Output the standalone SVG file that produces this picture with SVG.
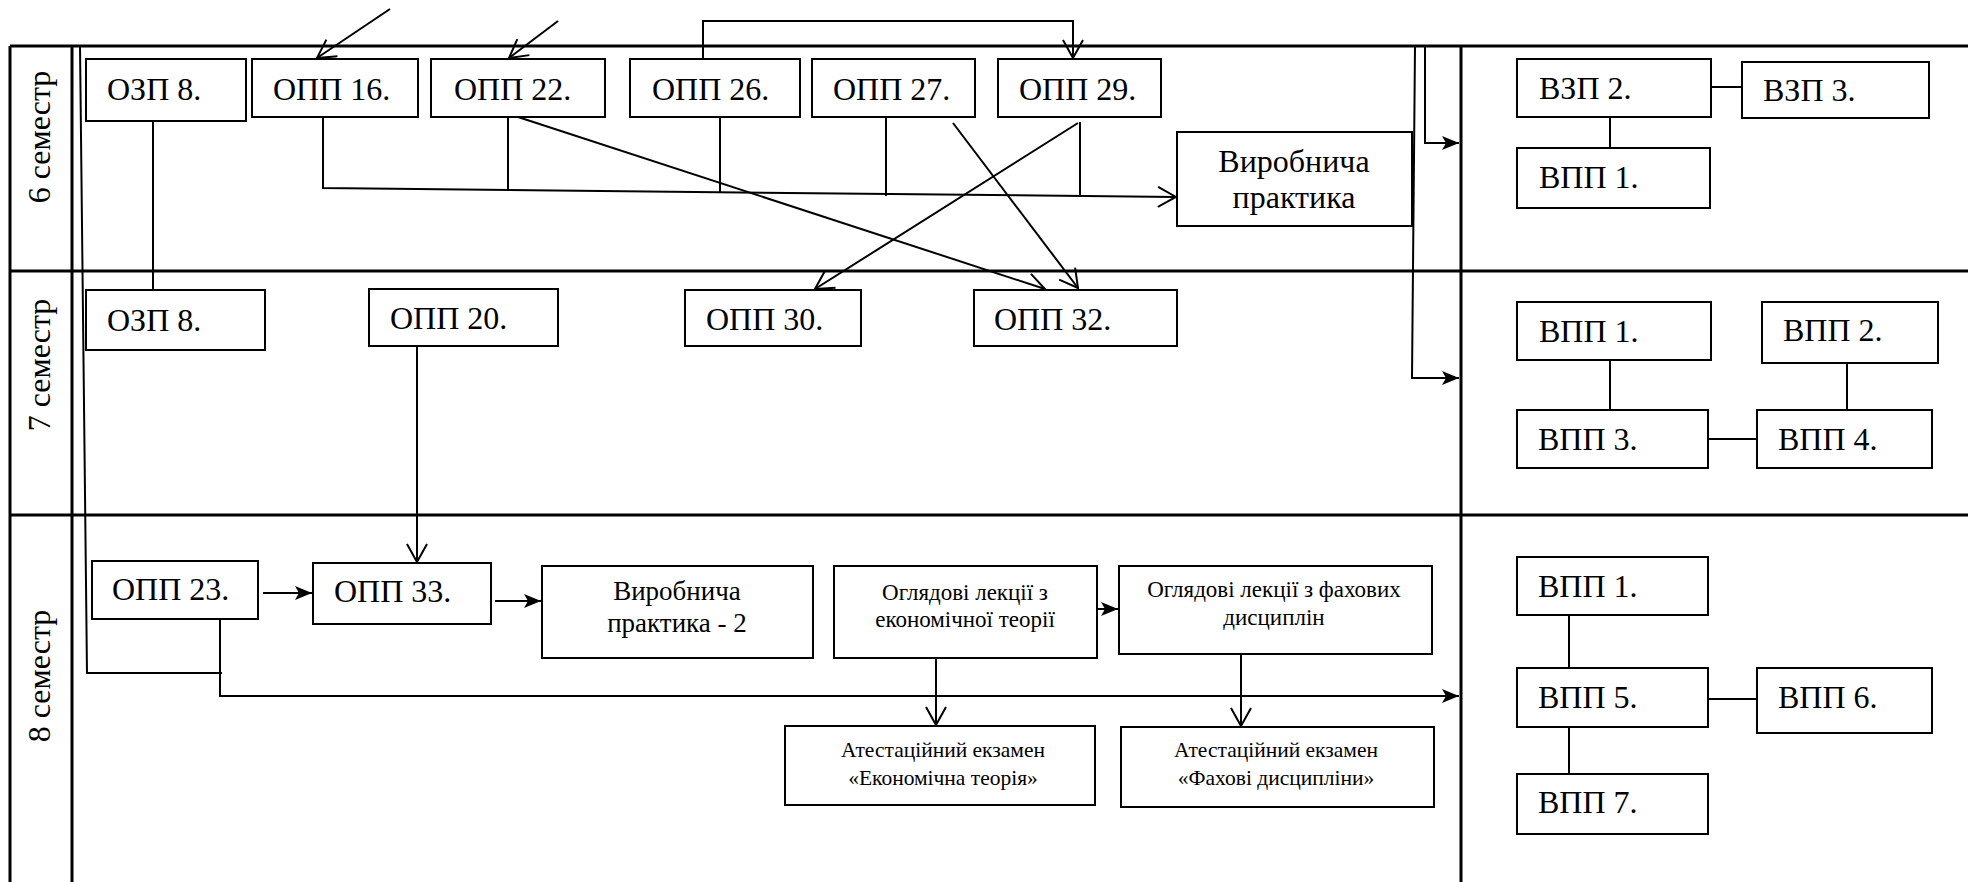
<svg xmlns="http://www.w3.org/2000/svg" width="1968" height="882" viewBox="0 0 1968 882">
<style>
.frame{stroke:#000;stroke-width:3;fill:none}
.box{fill:#fff;stroke:#000;stroke-width:2}
.c{fill:none;stroke:#000;stroke-width:2}
.t{font-family:"Liberation Serif","Times New Roman",serif;font-size:32px;fill:#000}
.m{text-anchor:middle}
.s27{font-size:27px}
.s23{font-size:23px}
.s21{font-size:21.5px}
</style>
<defs>
<marker id="open" viewBox="0 0 20 22" refX="19" refY="11" markerWidth="20" markerHeight="22" markerUnits="userSpaceOnUse" orient="auto">
<path d="M1,1 L19,11 L1,21" fill="none" stroke="#000" stroke-width="2"/>
</marker>
<marker id="fill" viewBox="0 0 18 14" refX="17" refY="7" markerWidth="18" markerHeight="14" markerUnits="userSpaceOnUse" orient="auto">
<path d="M0,0 L17,7 L0,14 L4,7 Z" fill="#000"/>
</marker>
</defs>
<rect width="1968" height="882" fill="#fff"/>
<g id="frame">
<line class="frame" x1="10" y1="46" x2="1968" y2="46"/>
<line class="frame" x1="10" y1="271" x2="1968" y2="271"/>
<line class="frame" x1="10" y1="515" x2="1968" y2="515"/>
<line class="frame" x1="10" y1="46" x2="10" y2="882"/>
<line class="frame" x1="72" y1="46" x2="72" y2="882"/>
<line class="frame" x1="1461" y1="46" x2="1461" y2="882"/>
<text class="t m" transform="translate(50,137) rotate(-90)">6 семестр</text>
<text class="t m" transform="translate(50,365) rotate(-90)">7 семестр</text>
<text class="t m" transform="translate(50,676) rotate(-90)">8 семестр</text>
</g>
<g id="connectors">
<path class="c" d="M80,46 L87,673 L222,673"/>
<path class="c" d="M220,620 L220,696 L1459,696" marker-end="url(#fill)"/>
<path class="c" d="M1425,46 L1425,143 L1459,143" marker-end="url(#fill)"/>
<path class="c" d="M1415,46 L1412,378 L1459,378" marker-end="url(#fill)"/>
<path class="c" d="M390,9 L317,58" marker-end="url(#open)"/>
<path class="c" d="M558,21 L509,58" marker-end="url(#open)"/>
<path class="c" d="M703,59 L703,21 L1073,21 L1073,58" marker-end="url(#open)"/>
<path class="c" d="M323,117 L323,188 L1176,197" marker-end="url(#open)"/>
<path class="c" d="M508,117 L508,190"/>
<path class="c" d="M720,117 L720,192"/>
<path class="c" d="M886,117 L886,196"/>
<path class="c" d="M1080,122 L1080,195"/>
<path class="c" d="M153,121 L153,290"/>
<path class="c" d="M518,117 L1045,289" marker-end="url(#open)"/>
<path class="c" d="M953,123 L1078,288" marker-end="url(#open)"/>
<path class="c" d="M1078,123 L815,289" marker-end="url(#open)"/>
<path class="c" d="M417,346 L417,562" marker-end="url(#open)"/>
<path class="c" d="M263,593 L312,593" marker-end="url(#fill)"/>
<path class="c" d="M495,601 L541,601" marker-end="url(#fill)"/>
<path class="c" d="M1097,609 L1118,609" marker-end="url(#fill)"/>
<path class="c" d="M936,655 L936,725" marker-end="url(#open)"/>
<path class="c" d="M1241,654 L1241,726" marker-end="url(#open)"/>
<path class="c" d="M1707,87 L1742,87"/>
<path class="c" d="M1610,117 L1610,148"/>
<path class="c" d="M1610,360 L1610,410"/>
<path class="c" d="M1847,363 L1847,410"/>
<path class="c" d="M1705,439 L1757,439"/>
<path class="c" d="M1569,615 L1569,668"/>
<path class="c" d="M1705,699 L1757,699"/>
<path class="c" d="M1569,727 L1569,774"/>
</g>
<g id="ozp8-6"><rect class="box" x="86" y="59" width="160" height="62"/><text class="t" x="107" y="100">ОЗП 8.</text></g>
<g id="opp16"><rect class="box" x="252" y="59" width="166" height="58"/><text class="t" x="273" y="100">ОПП 16.</text></g>
<g id="opp22"><rect class="box" x="431" y="59" width="174" height="58"/><text class="t" x="454" y="100">ОПП 22.</text></g>
<g id="opp26"><rect class="box" x="630" y="59" width="170" height="58"/><text class="t" x="652" y="100">ОПП 26.</text></g>
<g id="opp27"><rect class="box" x="812" y="59" width="163" height="58"/><text class="t" x="833" y="100">ОПП 27.</text></g>
<g id="opp29"><rect class="box" x="998" y="59" width="163" height="58"/><text class="t" x="1019" y="100">ОПП 29.</text></g>
<g id="vyr1"><rect class="box" x="1177" y="132" width="235" height="94"/><text class="t m" x="1294" y="172">Виробнича</text><text class="t m" x="1294" y="208">практика</text></g>
<g id="vzp2"><rect class="box" x="1517" y="59" width="194" height="58"/><text class="t" x="1539" y="99">ВЗП 2.</text></g>
<g id="vzp3"><rect class="box" x="1742" y="62" width="187" height="56"/><text class="t" x="1763" y="101">ВЗП 3.</text></g>
<g id="vpp1-6"><rect class="box" x="1517" y="148" width="193" height="60"/><text class="t" x="1539" y="188">ВПП 1.</text></g>
<g id="ozp8-7"><rect class="box" x="86" y="290" width="179" height="60"/><text class="t" x="107" y="331">ОЗП 8.</text></g>
<g id="opp20"><rect class="box" x="369" y="289" width="189" height="57"/><text class="t" x="390" y="329">ОПП 20.</text></g>
<g id="opp30"><rect class="box" x="685" y="290" width="176" height="56"/><text class="t" x="706" y="330">ОПП 30.</text></g>
<g id="opp32"><rect class="box" x="974" y="290" width="203" height="56"/><text class="t" x="994" y="330">ОПП 32.</text></g>
<g id="vpp1-7"><rect class="box" x="1517" y="302" width="194" height="58"/><text class="t" x="1539" y="342">ВПП 1.</text></g>
<g id="vpp2"><rect class="box" x="1762" y="302" width="176" height="61"/><text class="t" x="1783" y="341">ВПП 2.</text></g>
<g id="vpp3"><rect class="box" x="1517" y="410" width="191" height="58"/><text class="t" x="1538" y="450">ВПП 3.</text></g>
<g id="vpp4"><rect class="box" x="1757" y="410" width="175" height="58"/><text class="t" x="1778" y="450">ВПП 4.</text></g>
<g id="opp23"><rect class="box" x="92" y="561" width="166" height="58"/><text class="t" x="112" y="600">ОПП 23.</text></g>
<g id="opp33"><rect class="box" x="313" y="563" width="178" height="61"/><text class="t" x="334" y="602">ОПП 33.</text></g>
<g id="vyr2"><rect class="box" x="542" y="566" width="271" height="92"/><text class="t m s27" x="677" y="600">Виробнича</text><text class="t m s27" x="677" y="632">практика - 2</text></g>
<g id="ogl1"><rect class="box" x="834" y="566" width="263" height="92"/><text class="t m s23" x="965" y="600">Оглядові лекції з</text><text class="t m s23" x="965" y="627">економічної теорії</text></g>
<g id="ogl2"><rect class="box" x="1119" y="566" width="313" height="88"/><text class="t m s23" x="1274" y="597">Оглядові лекції з фахових</text><text class="t m s23" x="1274" y="625">дисциплін</text></g>
<g id="att1"><rect class="box" x="785" y="726" width="310" height="79"/><text class="t m s21" x="943" y="757">Атестаційний екзамен</text><text class="t m s21" x="943" y="785">«Економічна теорія»</text></g>
<g id="att2"><rect class="box" x="1121" y="727" width="313" height="80"/><text class="t m s21" x="1276" y="757">Атестаційний екзамен</text><text class="t m s21" x="1276" y="785">«Фахові дисципліни»</text></g>
<g id="vpp1-8"><rect class="box" x="1517" y="557" width="191" height="58"/><text class="t" x="1538" y="597">ВПП 1.</text></g>
<g id="vpp5"><rect class="box" x="1517" y="668" width="191" height="59"/><text class="t" x="1538" y="708">ВПП 5.</text></g>
<g id="vpp6"><rect class="box" x="1757" y="668" width="175" height="65"/><text class="t" x="1778" y="708">ВПП 6.</text></g>
<g id="vpp7"><rect class="box" x="1517" y="774" width="191" height="60"/><text class="t" x="1538" y="813">ВПП 7.</text></g>
</svg>
